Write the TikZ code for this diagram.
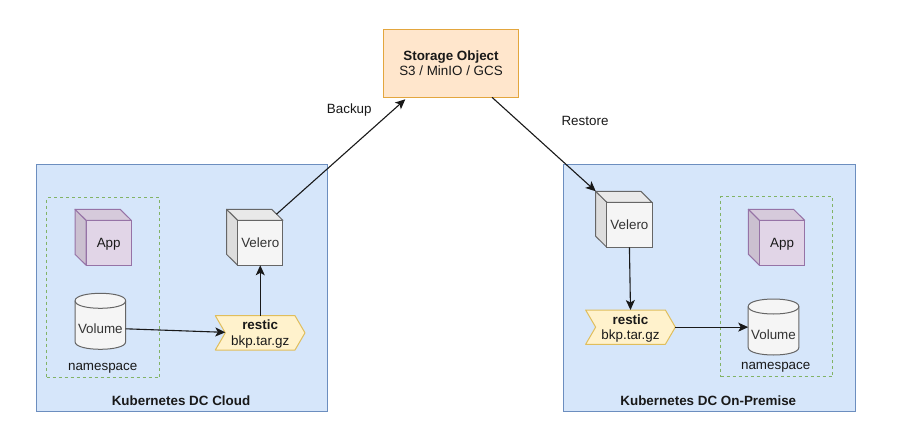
\documentclass[tikz,border=0pt]{standalone}
\usepackage{fontspec}
\setmainfont{Liberation Sans}
\usetikzlibrary{arrows.meta}
\definecolor{bluefill}{HTML}{D6E6FA}
\definecolor{bluedraw}{HTML}{6C8EBF}
\definecolor{greendraw}{HTML}{82B366}
\definecolor{purplefill}{HTML}{E1D5E7}
\definecolor{purpledraw}{HTML}{9673A6}
\definecolor{purpleside}{HTML}{CBC0D0}
\definecolor{purpletop}{HTML}{D6CADB}
\definecolor{greyfill}{HTML}{F5F5F5}
\definecolor{greydraw}{HTML}{666666}
\definecolor{greyside}{HTML}{DDDDDD}
\definecolor{greytop}{HTML}{E9E9E9}
\definecolor{yellowfill}{HTML}{FFF2CC}
\definecolor{yellowdraw}{HTML}{E0BE5C}
\definecolor{orangefill}{HTML}{FFE6CC}
\definecolor{orangedraw}{HTML}{E3A63E}
\definecolor{softtext}{HTML}{333333}
\newcommand{\twolines}[2]{\rule{0pt}{12.5pt}#1\\\rule[-3pt]{0pt}{3pt}#2}
\tikzset{
  textfont/.style={font=\fontsize{13.4}{15.5}\selectfont},
  lbl/.style={inner sep=0pt,textfont,text height=12.5pt,text depth=3pt,text=black!90},
  box/.style={inner sep=0pt,outer sep=0pt,line width=1pt,align=center,textfont},
  single/.style={text height=12.5pt,text depth=3pt},
  container/.style={box,draw=bluedraw,fill=bluefill},
  nsbox/.style={box,draw=greendraw,line width=1.1pt,dash pattern=on 3pt off 3pt},
  link/.style={line width=1.1pt,draw=black!90,-{Stealth[length=10pt,width=9pt,inset=2.5pt]}},
}
% \cubeshape{name}{cx}{cy}{front}{side}{top}{line}{text colour}{text}
\newcommand{\cubeshape}[9]{%
  \draw[#7,line width=1pt,fill=#5,line join=round] (#2-28.15,#3-28) -- (#2-17,#3-17) -- (#2-17,#3+28) -- (#2-28.15,#3+17) -- cycle;
  \draw[#7,line width=1pt,fill=#6,line join=round] (#2-28.15,#3-28) -- (#2+17,#3-28) -- (#2+28.15,#3-17) -- (#2-17,#3-17) -- cycle;
  \node[box,single,draw=#7,fill=#4,minimum width=45.15pt,minimum height=45pt,text=#8] (#1) at (#2+5.575,#3+5.5) {#9};
}
% \drumshape{name}{cx}{top y}{text}
\newcommand{\drumshape}[4]{%
  \draw[greydraw,line width=1pt,fill=greyfill] (#2-25.3,#3+7.5) .. controls (#2-25.3,#3-2.5) and (#2+25.3,#3-2.5) .. (#2+25.3,#3+7.5) -- (#2+25.3,#3+48.5) .. controls (#2+25.3,#3+58.5) and (#2-25.3,#3+58.5) .. (#2-25.3,#3+48.5) -- cycle;
  \draw[greydraw,line width=1pt] (#2-25.3,#3+7.5) .. controls (#2-25.3,#3+17.5) and (#2+25.3,#3+17.5) .. (#2+25.3,#3+7.5);
  \node[box,single,minimum width=50.6pt,minimum height=41pt,text=softtext] (#1) at (#2,#3+35.5) {#4};
}
% \tagshape{name}{cx}{cy}
\newcommand{\tagshape}[3]{%
  \draw[yellowdraw,line width=1pt,fill=yellowfill,line join=round] (#2-44.85,#3-17.15) -- (#2+34.85,#3-17.15) -- (#2+44.85,#3) -- (#2+34.85,#3+17.15) -- (#2-44.85,#3+17.15) -- (#2-34.85,#3) -- cycle;
  \node[box,minimum width=89.7pt,minimum height=34.3pt,text=black!90] (#1) at (#2,#3) {\twolines{\textbf{restic}}{bkp.tar.gz}};
}
\begin{document}
\begin{tikzpicture}[x=1pt,y=-1pt]
\useasboundingbox (0,0) rectangle (912,447);
\fill[white] (0,0) rectangle (912,447);

% containers
\node[container,minimum width=291.7pt,minimum height=246.5pt] (dcL) at (181.85,287.75) {};
\node[container,minimum width=291.7pt,minimum height=246.5pt] (dcR) at (709.15,287.75) {};
\node[nsbox,minimum width=112pt,minimum height=180pt] (nsR) at (776.5,286.5) {};
\node[nsbox,minimum width=113pt,minimum height=180pt] (nsL) at (103,287.5) {};

% storage
\node[box,draw=orangedraw,fill=orangefill,minimum width=135.4pt,minimum height=68pt,text=black!90] (store) at (451,63.3) {\twolines{\textbf{Storage Object}}{S3 / MinIO / GCS}};

% left side
\cubeshape{appL}{103.15}{237.3}{purplefill}{purpleside}{purpletop}{purpledraw}{black!90}{App}
\cubeshape{velL}{254.7}{237.3}{greyfill}{greyside}{greytop}{greydraw}{softtext}{Velero}
\drumshape{volL}{100.35}{293.3}{Volume}
\tagshape{resL}{260.15}{332.85}

% right side
\cubeshape{appR}{776.5}{237.3}{purplefill}{purpleside}{purpletop}{purpledraw}{black!90}{App}
\cubeshape{velR}{623.85}{219.3}{greyfill}{greyside}{greytop}{greydraw}{softtext}{Velero}
\drumshape{volR}{773.5}{299}{Volume}
\tagshape{resR}{630.5}{327.15}

% labels
\node[lbl] (nameL) at (102.7,366.2) {namespace};
\node[lbl] (nameR) at (775.7,365.2) {namespace};
\node[lbl] (capL) at (181,400.3) {\textbf{Kubernetes DC Cloud}};
\node[lbl] (capR) at (708.3,400.3) {\textbf{Kubernetes DC On-Premise}};
\node[lbl] (bak) at (349.3,108.5) {Backup};
\node[lbl] (res) at (585,120.3) {Restore};

% connectors
\draw[link] ([xshift=-6.5pt,yshift=6pt]velL.north east) -- ([xshift=22pt,yshift=-2pt]store.south west);
\draw[link] (velL.south |- resL.north) -- (velL.south);
\draw[link] (volL.east) -- ([xshift=10pt,yshift=.5pt]resL.west);
\draw[link] ([xshift=41pt]store.south) -- ([xshift=-11.1pt,yshift=11pt]velR.north west);
\draw[link] (velR.south) -- (resR.north);
\draw[link] (resR.east) -- (resR.east -| volR.west);
\end{tikzpicture}
\end{document}
